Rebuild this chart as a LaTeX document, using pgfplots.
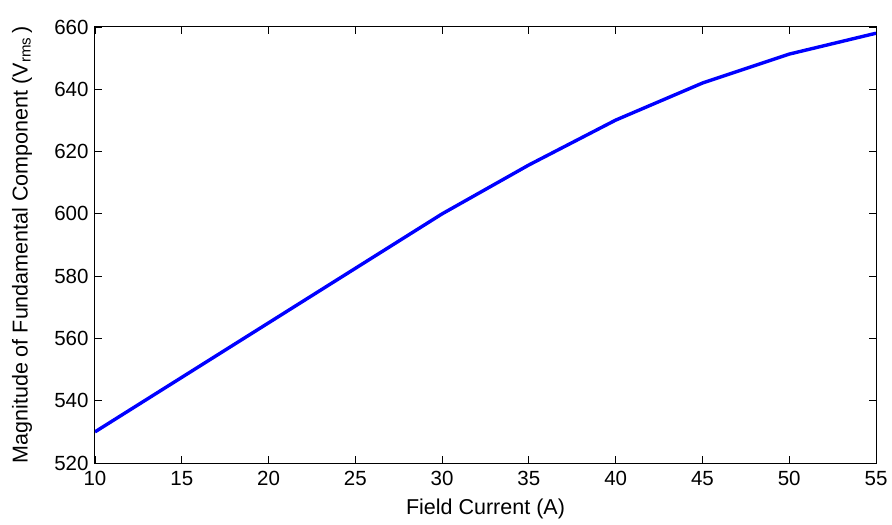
\documentclass[border=0pt]{standalone}
\usepackage{fontspec}
\setmainfont{Liberation Sans}
\usepackage{pgfplots}
\pgfplotsset{compat=1.18}
\begin{document}
\begin{tikzpicture}
\begin{axis}[
  name=main,
  scale only axis,
  width=781pt, height=436pt,
  xmin=10, xmax=55, ymin=520, ymax=660,
  xtick={10,15,...,55},
  ytick={520,540,...,660},
  tick align=inside,
  major tick length=7pt,
  axis line style={line width=1pt},
  every tick/.style={black, line width=0.8pt},
  tick label style={font=\fontsize{20.5pt}{24pt}\selectfont},
  label style={font=\fontsize{21.5pt}{26pt}\selectfont},
  /pgf/number format/assume math mode=true,
  xticklabel style={yshift=-5pt},
  yticklabel style={xshift=-3pt},
  xlabel={Field Current (A)},
  ylabel={Magnitude of Fundamental Component (V$_{\mathrm{rms}}$\,)},
  xlabel style={at={(axis description cs:0.5,0)}, anchor=center, yshift=-46pt},
  ylabel style={at={(axis description cs:0,0.5)}, anchor=center, yshift=73pt},
]
\addplot[blue, line width=3.4pt] coordinates {
  (10,530.0) (15,547.5) (20,565.0) (25,582.5) (30,600.0)
  (35,615.7) (40,630.1) (45,642.0) (50,651.3) (55,658.0)
};
\end{axis}
\useasboundingbox ([xshift=-95pt,yshift=-61pt]main.south west)
  rectangle ([xshift=16pt,yshift=27pt]main.north east);
\end{tikzpicture}
\end{document}
